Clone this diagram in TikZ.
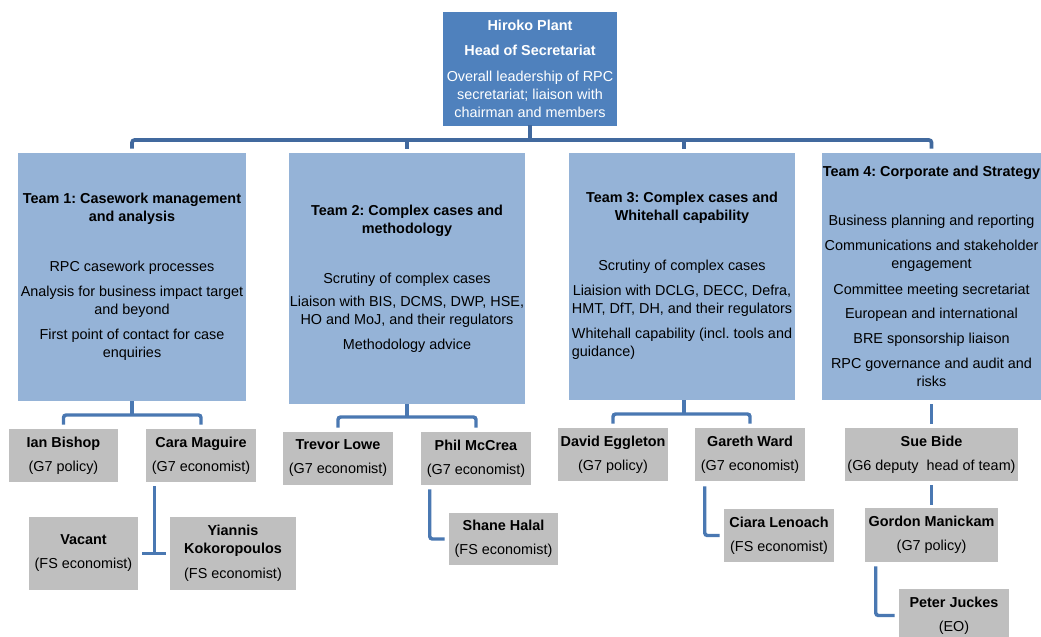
\documentclass[tikz,border=0pt]{standalone}
\usepackage{fontspec}
\setmainfont{Liberation Sans}
\usetikzlibrary{calc}
\definecolor{topblue}{HTML}{4F81BD}
\definecolor{teamblue}{HTML}{95B3D7}
\definecolor{staffgrey}{HTML}{BFBFBF}
\definecolor{busblue}{HTML}{41699E}
\definecolor{linkblue}{HTML}{4A78B2}
\frenchspacing
\begin{document}
\begin{tikzpicture}[x=0.75pt,y=-0.75pt,
  every node/.style={font=\fontsize{10.8pt}{13.5pt}\selectfont\frenchspacing, inner sep=0pt, align=center},
  topbox/.style={fill=topblue, text=white, minimum width=130.5pt, minimum height=85.5pt},
  teambox/.style={fill=teamblue, text=black, minimum height=185.25pt},
  staffbox/.style={fill=staffgrey, text=black, minimum width=82.5pt, minimum height=39.75pt},
  bus/.style={draw=busblue, line width=2.8pt, rounded corners=2pt},
  link/.style={draw=linkblue, line width=2.6pt, rounded corners=2pt}]
\clip (0,0) rectangle (1041,636);
\fill[white] (0,0) rectangle (1041,636);

% top
\node[topbox] (top) at (530,69) {\textbf{Hiroko Plant}\\[5.25pt] \textbf{Head of Secretariat}\\[6pt] Overall leadership of RPC\\ secretariat; liaison with\\ chairman and members};

% teams
\node[teambox, minimum width=171pt, minimum height=186pt] (t1) at (132,277)
 {\textbf{Team 1: Casework management}\\ \textbf{and analysis}\\[24pt] RPC casework processes\\[5.25pt] Analysis for business impact target\\ and beyond\\[5.25pt] First point of contact for case\\ enquiries};
\node[teambox, minimum width=177pt, minimum height=188.25pt] (t2) at (407,278.5)
 {\textbf{Team 2: Complex cases and}\\ \textbf{methodology}\\[24pt] Scrutiny of complex cases\\[3.75pt] Liaison with BIS, DCMS, DWP, HSE,\\ HO and MoJ, and their regulators\\[5.25pt] Methodology advice};
\node[teambox, minimum width=169.5pt] (t3) at (682,276.5)
 {\textbf{Team 3: Complex cases and}\\ \textbf{Whitehall capability}\\[24pt] Scrutiny of complex cases\\[5.25pt] Liaision with DCLG, DECC, Defra,\\ HMT, DfT, DH, and their regulators\\[5.25pt] \begin{tabular}[t]{@{}l@{}}Whitehall capability (incl. tools and\\ guidance)\end{tabular}};
\node[teambox, minimum width=164.25pt] (t4) at (931.5,276.5)
 {\textbf{Team 4: Corporate and Strategy}\\[23pt] Business planning and reporting\\[5.25pt] Communications and stakeholder\\ engagement\\[6pt] Committee meeting secretariat\\[4.5pt] European and international\\[5.25pt] BRE sponsorship liaison\\[5.25pt] RPC governance and audit and\\ risks};

% staff
\node[staffbox, minimum width=81.75pt] (ian) at (63.5,455.5) {\textbf{Ian Bishop}\\[4.5pt] (G7 policy)};
\node[staffbox] (cara) at (201,455.5) {\textbf{Cara Maguire}\\[4.5pt] (G7 economist)};
\node[staffbox, minimum width=81.75pt, minimum height=54.75pt] (vacant) at (83.5,553.5) {\textbf{Vacant}\\[4.5pt] (FS economist)};
\node[staffbox, minimum width=94.5pt, minimum height=54.75pt] (yiannis) at (233,553.5) {\textbf{Yiannis}\\ \textbf{Kokoropoulos}\\[5.25pt] (FS economist)};
\node[staffbox] (trevor) at (338,458.5) {\textbf{Trevor Lowe}\\[4.5pt] (G7 economist)};
\node[staffbox] (phil) at (476,458.5) {\textbf{Phil McCrea}\\[4.5pt] (G7 economist)};
\node[staffbox, minimum width=81.75pt, minimum height=39pt] (shane) at (503.5,539) {\textbf{Shane Halal}\\[4.5pt] (FS economist)};
\node[staffbox] (david) at (613,454.5) {\textbf{David Eggleton}\\[4.5pt] (G7 policy)};
\node[staffbox] (gareth) at (750,454.5) {\textbf{Gareth Ward}\\[4.5pt] (G7 economist)};
\node[staffbox] (ciara) at (779,535.5) {\textbf{Ciara Lenoach}\\[4.5pt] (FS economist)};
\node[staffbox, minimum width=129.75pt] (sue) at (931.5,454.5) {\textbf{Sue Bide}\\[4.5pt] (G6 deputy\ \ head of team)};
\node[staffbox, minimum width=99.75pt, minimum height=40.5pt] (gordon) at (931.5,535) {\textbf{Gordon Manickam}\\[4.5pt] (G7 policy)};
\node[staffbox] (peter) at (954,615.5) {\textbf{Peter Juckes}\\[4.5pt] (EO)};

% top-level bus
\coordinate (busy) at (0,140);
\draw[bus] ($(top.south)+(0,-1)$) -- (top.south |- busy);
\draw[bus] ($(t1.north)+(0,-4)$) -- (t1.north |- busy) -- (t4.north |- busy) -- ($(t4.north)+(0,-4)$);
\draw[bus] ($(t2.north)+(0,-4)$) -- (t2.north |- busy);
\draw[bus] ($(t3.north)+(2,-4)$) -- ($(t3.north |- busy)+(2,0)$);

% team 1
\coordinate (b1) at (0,415);
\draw[link] (t1.south) -- (t1.south |- b1);
\draw[link] ($(ian.north)+(0,-4)$) -- (ian.north |- b1) -- (cara.north |- b1) -- ($(cara.north)+(0,-4)$);
\coordinate (c1) at ($(cara.south west)+(9,4)$);
\draw[link] (c1) -- (c1 |- vacant.east);
\draw[link] ($(vacant.east)+(4,0)$) -- ($(yiannis.west)+(-4,0)$);

% team 2
\coordinate (b2) at (0,417);
\draw[link] (t2.south) -- (t2.south |- b2);
\draw[link] ($(trevor.north)+(0,-4)$) -- (trevor.north |- b2) -- (phil.north |- b2) -- ($(phil.north)+(0,-4)$);
\coordinate (c2) at ($(phil.south west)+(9,4)$);
\draw[link] (c2) -- (c2 |- shane.west) -- ($(shane.west)+(-4,0)$);

% team 3
\coordinate (b3) at (0,414);
\draw[link] ($(t3.south)+(2,0)$) -- ($(t3.south |- b3)+(2,0)$);
\draw[link] ($(david.north)+(0,-4)$) -- (david.north |- b3) -- (gareth.north |- b3) -- ($(gareth.north)+(0,-4)$);
\coordinate (c3) at ($(gareth.south west)+(10,5)$);
\draw[link] (c3) -- (c3 |- ciara.west) -- ($(ciara.west)+(-4,0)$);

% team 4
\draw[link] ($(t4.south)+(0,4)$) -- ($(sue.north)+(0,-4)$);
\draw[link] ($(sue.south)+(0,4)$) -- ($(gordon.north)+(0,-3)$);
\coordinate (c4) at ($(gordon.south west)+(11,4)$);
\draw[link] (c4) -- (c4 |- peter.west) -- ($(peter.west)+(-4,0)$);
\end{tikzpicture}
\end{document}
